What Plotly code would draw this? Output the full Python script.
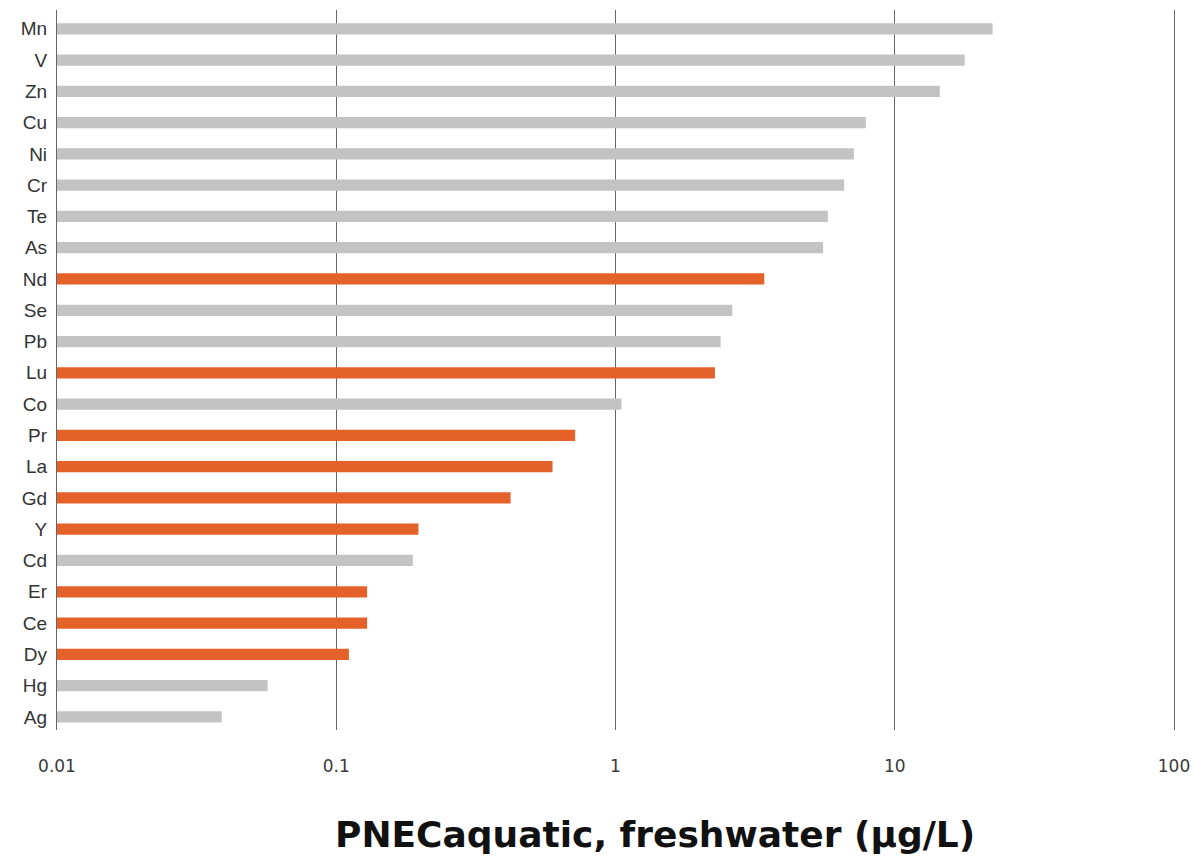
import plotly.graph_objects as go

# Predicted no-effect concentrations, freshwater (µg/L), listed bottom to top
elements = ["Ag", "Hg", "Dy", "Ce", "Er", "Cd", "Y", "Gd", "La", "Pr", "Co",
            "Lu", "Pb", "Se", "Nd", "As", "Te", "Cr", "Ni", "Cu", "Zn", "V", "Mn"]
pnec_values = [0.0389, 0.0568, 0.111, 0.129, 0.129, 0.188, 0.197, 0.421, 0.595,
               0.717, 1.05, 2.27, 2.38, 2.62, 3.41, 5.54, 5.76, 6.59, 7.14, 7.88,
               14.5, 17.8, 22.4]
rare_earths = {"Dy", "Ce", "Er", "Y", "Gd", "La", "Pr", "Lu", "Nd"}

tick_values = [0.01, 0.1, 1, 10, 100]
tick_labels = ["0.01", "0.1", "1", "10", "100"]
x_title = "PNECaquatic, freshwater (µg/L)"

GREY = "#c3c3c3"
ORANGE = "#e4622a"
LINE = "#666666"
bar_colors = [ORANGE if e in rare_earths else GREY for e in elements]

fig = go.Figure(
    go.Bar(
        x=pnec_values,
        y=elements,
        orientation="h",
        marker=dict(color=bar_colors, line=dict(width=0)),
        width=0.36,
        hoverinfo="x+y",
    )
)

fig.update_layout(
    width=1196,
    height=866,
    margin=dict(l=57, r=22, t=10, b=136),
    paper_bgcolor="white",
    plot_bgcolor="white",
    showlegend=False,
    font=dict(family="Liberation Sans, Arial, sans-serif", color="#333333", size=16),
    xaxis=dict(
        type="log",
        range=[-2, 2],
        tickvals=tick_values,
        ticktext=tick_labels,
        showgrid=True,
        gridcolor=LINE,
        gridwidth=1.2,
        zeroline=False,
        showline=False,
        ticks="",
        automargin=False,
        ticklabelstandoff=24,
        tickfont=dict(family="DejaVu Sans, sans-serif", size=17, color="#3a3a3a"),
    ),
    yaxis=dict(
        type="category",
        range=[-0.42, 22.6],
        showgrid=False,
        zeroline=False,
        # vertical rules at the 0.01 and 100 ends of the scale
        showline=True,
        mirror=True,
        linecolor=LINE,
        linewidth=1.2,
        ticks="",
        automargin=False,
        ticklabelstandoff=5,
        tickfont=dict(size=19, color="#333333"),
    ),
)

# Axis caption, set slightly right of the plot centre
fig.add_annotation(
    text=f"<b>{x_title}</b>",
    xref="paper", yref="paper",
    x=0.535, y=-0.145,
    xanchor="center", yanchor="middle",
    showarrow=False,
    font=dict(family="DejaVu Sans, sans-serif", size=36, color="#111111"),
)

fig.write_html("out.html")
